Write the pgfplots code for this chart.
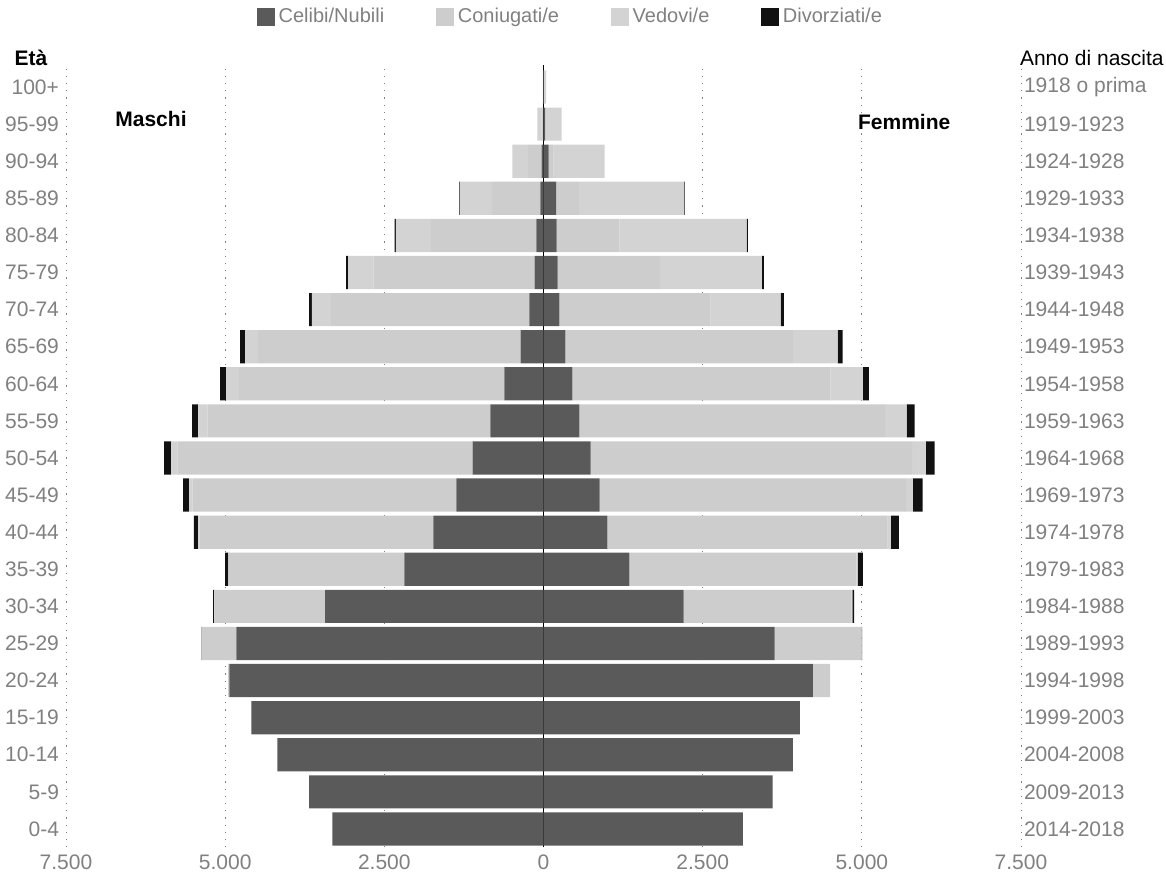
\documentclass[border=0pt]{standalone}
\usepackage{fontspec}
\setmainfont{Liberation Sans}
\usepackage{pgfplots}
\pgfplotsset{compat=1.18}
\usepackage{pgfplotstable}

% 0 = 0-4 ... 20 = 100+ ; maschi a sinistra (negativi)
\pgfplotstableread{
idx cel con ved div
0  -3315  0     0    0
1  -3680  0     0    0
2  -4180  0     0    0
3  -4590  0     0    0
4  -4935  -20   0    0
5  -4825  -545  0    -5
6  -3430  -1740 -5   -15
7  -2185  -2755 -10  -50
8  -1730  -3670 -25  -65
9  -1370  -4140 -55  -95
10 -1115  -4635 -100 -110
11 -835   -4440 -150 -95
12 -615   -4170 -200 -95
13 -360   -4125 -200 -80
14 -220   -3120 -300 -40
15 -140   -2530 -400 -30
16 -110   -1660 -550 -20
17 -50    -760  -500 -10
18 -30    -210  -250 0
19 -5     -30   -60  0
20 0      -2    -8   0
}\maschi

\pgfplotstableread{
idx cel con ved div
0  3130  0    0    0
1  3600  0    0    0
2  3915  0    0    0
3  4025  0    0    0
4  4230  270  0    0
5  3630  1360 5    10
6  2200  2640 10   30
7  1350  3565 20   80
8  1005  4400 50   125
9  880   4810 110  155
10 740   5050 215  140
11 565   4800 340  125
12 455   4050 510  95
13 345   3575 700  80
14 250   2375 1100 50
15 220   1610 1600 30
16 205   985  2000 20
17 200   355  1650 10
18 80    80   800  0
19 25    10   250  0
20 5     0    35   0
}\femmine

\definecolor{celibi}{HTML}{5A5A5A}
\definecolor{coniug}{HTML}{CDCDCD}
\definecolor{vedovi}{HTML}{D3D3D3}
\definecolor{divorz}{HTML}{111111}
\definecolor{lbl}{HTML}{808080}

\pgfplotsset{piramide/.style={
  scale only axis, width=477.5pt, height=389.5pt,
  xmin=-7500, xmax=7500, ymin=-0.5, ymax=20.5,
  xbar stacked, bar width=16.6pt,
  axis line style={draw=none},
  major tick length=0pt,
  ytick={0,...,20},
  xtick={-7500,-5000,...,7500},
  tick label style={font=\fontsize{10.5}{12}\selectfont, text=lbl},
}}

\begin{document}
\begin{tikzpicture}
\begin{axis}[piramide, clip=false,
  xmajorgrids,
  major grid style={lbl, line width=0.5pt, dash pattern=on 0.6pt off 3pt},
  xticklabels={7.500,5.000,2.500,0,2.500,5.000,7.500},
  yticklabels={0-4,5-9,10-14,15-19,20-24,25-29,30-34,35-39,40-44,45-49,50-54,
    55-59,60-64,65-69,70-74,75-79,80-84,85-89,90-94,95-99,100+},
  legend columns=4,
  legend image code/.code={\fill[#1] (0pt,-4.4pt) rectangle (8.8pt,4.4pt);},
  legend style={at={(axis description cs:0.5,1)}, anchor=center,
    xshift=14pt, yshift=25.75pt, draw=none, fill=none, inner sep=0pt,
    font=\fontsize{10}{12}\selectfont, text=lbl,
    /tikz/every even column/.append style={column sep=24pt}},
]
\addplot[fill=celibi, draw=none] table[x=cel, y=idx] {\maschi};
\addlegendentry{Celibi/Nubili}
\addplot[fill=coniug, draw=none] table[x=con, y=idx] {\maschi};
\addlegendentry{Coniugati/e}
\addplot[fill=vedovi, draw=none] table[x=ved, y=idx] {\maschi};
\addlegendentry{Vedovi/e}
\addplot[fill=divorz, draw=none] table[x=div, y=idx] {\maschi};
\addlegendentry{Divorziati/e}

\node[font=\fontsize{10.5}{12}\selectfont\bfseries] at (axis cs:-6165,19.15) {Maschi};
\node[font=\fontsize{10.5}{12}\selectfont\bfseries] at (axis cs:5665,19.05) {Femmine};
\node[font=\fontsize{10.5}{12}\selectfont\bfseries, anchor=center]
  at ([xshift=-17.5pt, yshift=5.25pt]axis description cs:0,1) {Età};
\end{axis}

\begin{axis}[piramide, clip=false,
  xticklabels={},
  yticklabel pos=right,
  yticklabel style={xshift=-2pt},
  yticklabels={2014-2018,2009-2013,2004-2008,1999-2003,1994-1998,1989-1993,
    1984-1988,1979-1983,1974-1978,1969-1973,1964-1968,1959-1963,1954-1958,
    1949-1953,1944-1948,1939-1943,1934-1938,1929-1933,1924-1928,1919-1923,
    1918 o prima},
]
\addplot[fill=celibi, draw=none] table[x=cel, y=idx] {\femmine};
\addplot[fill=coniug, draw=none] table[x=con, y=idx] {\femmine};
\addplot[fill=vedovi, draw=none] table[x=ved, y=idx] {\femmine};
\addplot[fill=divorz, draw=none] table[x=div, y=idx] {\femmine};

\draw[black, line width=0.8pt] (axis cs:0,-0.5) -- (axis cs:0,20.6);
\node[font=\fontsize{10.5}{12}\selectfont, anchor=west]
  at ([xshift=-4pt, yshift=5.25pt]axis description cs:1,1) {Anno di nascita};
\end{axis}
\pgfresetboundingbox
\path[use as bounding box] (-33pt,-17.25pt) rectangle (550pt,423.75pt);
\end{tikzpicture}
\end{document}
